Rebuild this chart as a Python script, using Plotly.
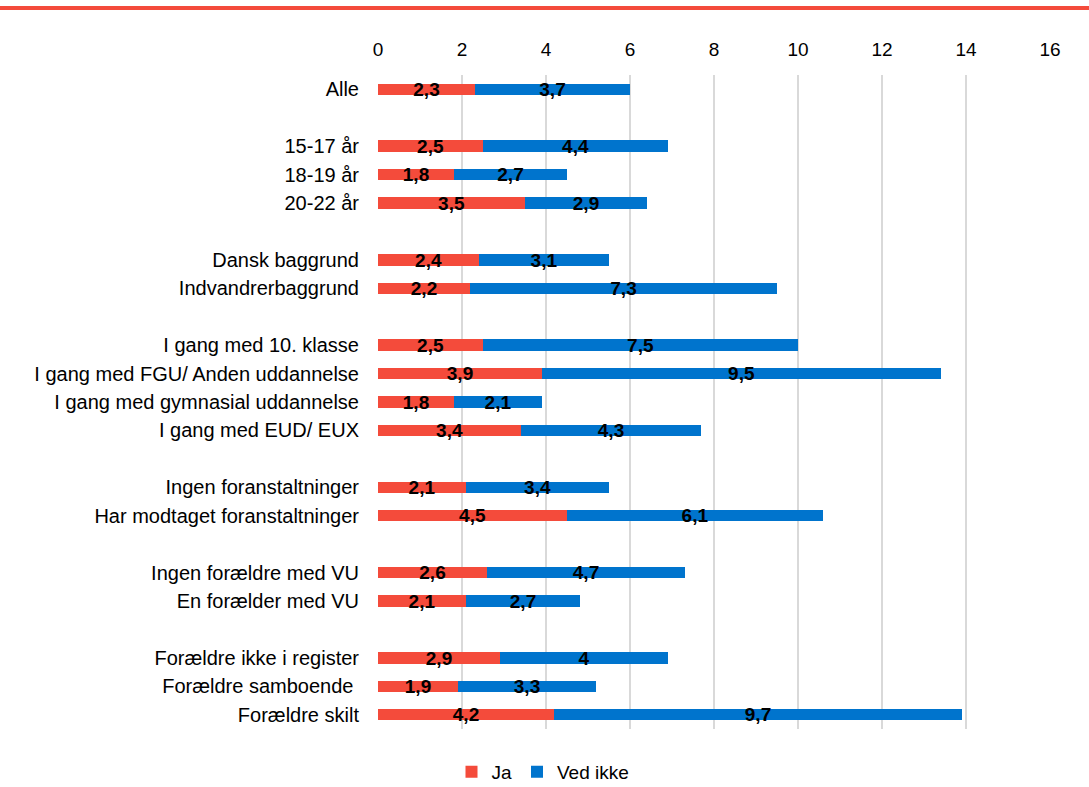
import plotly.graph_objects as go

groups = [
    ["Alle"],
    ["15-17 år", "18-19 år", "20-22 år"],
    ["Dansk baggrund", "Indvandrerbaggrund"],
    ["I gang med 10. klasse", "I gang med FGU/ Anden uddannelse",
     "I gang med gymnasial uddannelse", "I gang med EUD/ EUX"],
    ["Ingen foranstaltninger", "Har modtaget foranstaltninger"],
    ["Ingen forældre med VU", "En forælder med VU"],
    ["Forældre ikke i register", "Forældre samboende ", "Forældre skilt"],
]
ja = [2.3, 2.5, 1.8, 3.5, 2.4, 2.2, 2.5, 3.9, 1.8, 3.4, 2.1, 4.5, 2.6, 2.1, 2.9, 1.9, 4.2]
ved_ikke = [3.7, 4.4, 2.7, 2.9, 3.1, 7.3, 7.5, 9.5, 2.1, 4.3, 3.4, 6.1, 4.7, 2.7, 4.0, 3.3, 9.7]
x_ticks = [0, 2, 4, 6, 8, 10, 12, 14, 16]

# slot positions: one blank slot between groups
cats, pos = [], []
slot = 0
for gi, g in enumerate(groups):
    for c in g:
        cats.append(c)
        pos.append(slot)
        slot += 1
    slot += 1
n_slots = slot - 1


def fmt(v):
    s = ("%.1f" % v).rstrip("0").rstrip(".")
    return s.replace(".", ",")


RED = "#F44B3B"
BLUE = "#0074CD"
FONT = "Liberation Sans, Arial, sans-serif"

fig = go.Figure()
for name, vals, col in [("Ja", ja, RED), ("Ved ikke", ved_ikke, BLUE)]:
    fig.add_trace(go.Bar(
        name=name, x=vals, y=pos, orientation="h", width=0.4,
        marker=dict(color=col, line=dict(width=0)),
        text=[fmt(v) for v in vals], textposition="inside", textangle=0,
        insidetextanchor="middle", constraintext="none",
        textfont=dict(family=FONT, size=19, color="black", weight="bold"),
        hoverinfo="x+name",
    ))

L, R, T, B = 378, 39, 75, 58
W, H = 1089, 787
ph = H - T - B
fig.update_layout(
    width=W, height=H, barmode="stack",
    margin=dict(l=L, r=R, t=T, b=B, autoexpand=False),
    paper_bgcolor="white", plot_bgcolor="white",
    font=dict(family=FONT, size=19, color="black"),
    xaxis=dict(side="top", range=[0, 16], tickvals=x_ticks,
               showgrid=True, gridcolor="#D9D9D9", gridwidth=2,
               zeroline=False, showline=False, ticks="",
               ticklabelstandoff=14, tickfont=dict(size=19)),
    yaxis=dict(range=[n_slots - 1 + 0.5, -0.5], tickvals=pos, ticktext=cats,
               showgrid=False, zeroline=False, showline=False,
               ticks="", ticklabelstandoff=18, tickfont=dict(size=20)),
    legend=dict(orientation="h", x=(543 - L) / (W - L - R), xanchor="center",
                y=-(772 - (H - B)) / ph, yanchor="middle", traceorder="normal",
                font=dict(size=19), itemwidth=30, tracegroupgap=0),
    bargap=0,
    showlegend=True,
    shapes=[dict(type="line", xref="paper", yref="paper",
                 x0=-L / (W - L - R) - 0.01, x1=1 + R / (W - L - R) + 0.01,
                 y0=1 + (T - 8) / ph, y1=1 + (T - 8) / ph,
                 line=dict(color=RED, width=4))],
)
fig.write_html("out.html", config={"displayModeBar": False},
               post_script="document.body.style.margin='0';")
